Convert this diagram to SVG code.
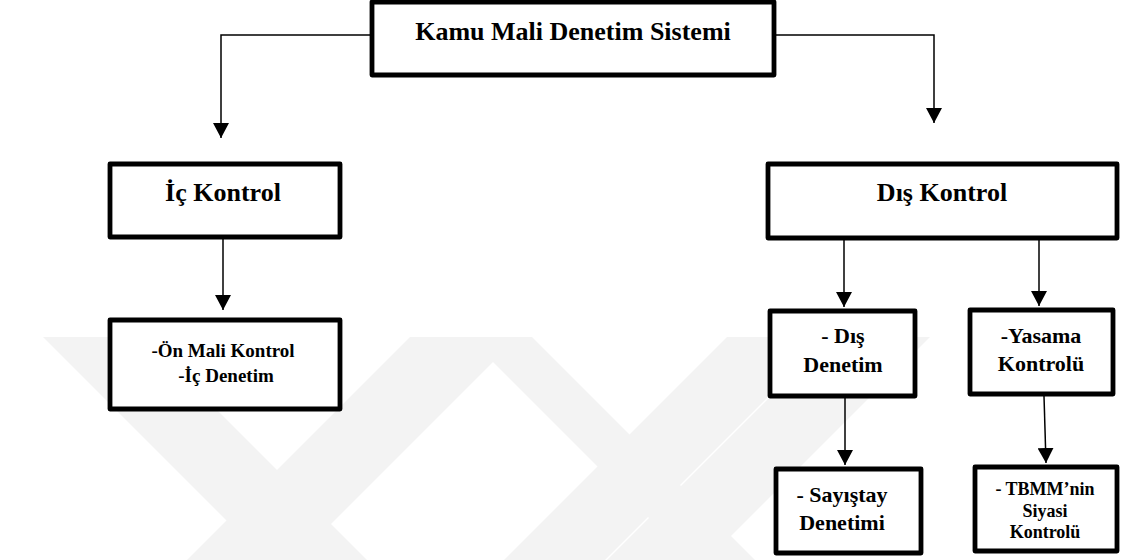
<svg xmlns="http://www.w3.org/2000/svg" width="1126" height="560" viewBox="0 0 1126 560">
  <style>
    .box { fill: #ffffff; stroke: #000000; stroke-width: 4.8; stroke-linejoin: round; }
    .lbl { font-family: "Liberation Serif", "Times New Roman", serif; font-weight: bold; fill: #000000; text-anchor: middle; }
    .big { font-size: 26px; }
    .mid { font-size: 22px; }
    .sm19 { font-size: 19px; }
    .sm18 { font-size: 18px; }
    .link { fill: none; stroke: #000000; stroke-width: 1.5; marker-end: url(#arrow); }
    .mark { fill: #f3f3f3; }
  </style>
  <defs>
    <marker id="arrow" viewBox="0 0 15 16" refX="15" refY="8" markerWidth="15" markerHeight="16" markerUnits="userSpaceOnUse" orient="auto">
      <path d="M0,0 L15,8 L0,16 Z" fill="#000000"/>
    </marker>
  </defs>

  <rect width="1126" height="560" fill="#ffffff"/>

  <!-- faint background emblem bands -->
  <g id="emblem">
    <polygon class="mark" points="43,337 144,337 367,560 266,560"/>
    <polygon class="mark" points="410,337 518,337 295,560 187,560"/>
    <polygon class="mark" points="468,337 532,337 755,560 691,560"/>
    <polygon class="mark" points="727,337 828,337 605,560 504,560"/>
    <polygon class="mark" points="830,337 930,337 707,560 607,560"/>
  </g>

  <g id="connectors">
    <path class="link" d="M370,35 H221 V138"/>
    <path class="link" d="M776,35 H934 V123"/>
    <path class="link" d="M223,239 V310"/>
    <path class="link" d="M844,240 V307"/>
    <path class="link" d="M1039,240 V306"/>
    <path class="link" d="M845,398 V465"/>
    <path class="link" d="M1044,396 L1046,463"/>
  </g>

  <g id="kamu-mali-denetim">
    <rect class="box" x="372" y="2" width="402" height="73"/>
    <text class="lbl big" x="573" y="40">Kamu Mali Denetim Sistemi</text>
  </g>

  <g id="ic-kontrol">
    <rect class="box" x="110" y="164" width="230" height="73"/>
    <text class="lbl big" x="223" y="201">İç Kontrol</text>
  </g>

  <g id="dis-kontrol">
    <rect class="box" x="768" y="164" width="349" height="74"/>
    <text class="lbl big" x="942" y="201">Dış Kontrol</text>
  </g>

  <g id="on-mali-kontrol">
    <rect class="box" x="110" y="320" width="230" height="89"/>
    <text class="lbl sm19" x="223" y="357">-Ön Mali Kontrol</text>
    <text class="lbl sm19" x="226" y="382">-İç Denetim</text>
  </g>

  <g id="dis-denetim">
    <rect class="box" x="770" y="311" width="145" height="85"/>
    <text class="lbl mid" x="843" y="343">- Dış</text>
    <text class="lbl mid" x="843" y="372">Denetim</text>
  </g>

  <g id="yasama-kontrolu">
    <rect class="box" x="970" y="310" width="143" height="84"/>
    <text class="lbl mid" x="1041" y="343">-Yasama</text>
    <text class="lbl mid" x="1041" y="371">Kontrolü</text>
  </g>

  <g id="sayistay-denetimi">
    <rect class="box" x="776" y="469" width="145" height="84"/>
    <text class="lbl mid" x="842" y="502">- Sayıştay</text>
    <text class="lbl mid" x="842" y="530">Denetimi</text>
  </g>

  <g id="tbmm-siyasi-kontrolu">
    <rect class="box" x="975" y="467" width="142" height="84"/>
    <text class="lbl sm18" x="1045" y="495">- TBMM’nin</text>
    <text class="lbl sm18" x="1045" y="517">Siyasi</text>
    <text class="lbl sm18" x="1045" y="538">Kontrolü</text>
  </g>
</svg>
